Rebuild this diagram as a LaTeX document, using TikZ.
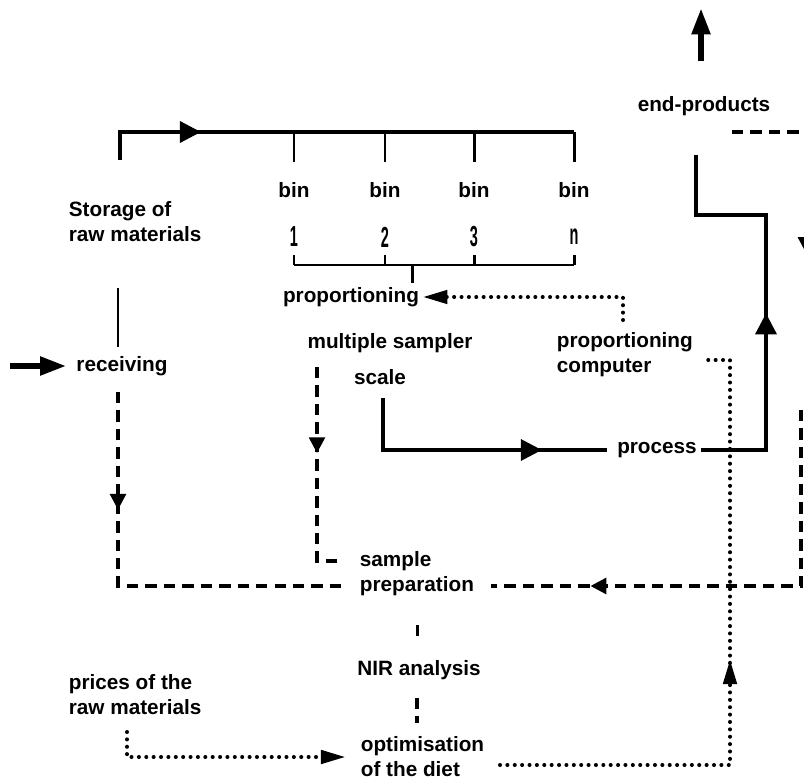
\documentclass[tikz,border=0pt]{standalone}
\usepackage{fontspec}
\setmainfont{Liberation Sans}
\usepackage{graphicx}
\usetikzlibrary{arrows.meta,decorations.markings}

\tikzset{
  lbl/.style={font=\fontsize{11.8}{14.2}\selectfont\bfseries, inner sep=2pt},
  lbll/.style={lbl, align=left, anchor=west},
  numlbl/.style={inner sep=1pt},
  flow/.style={line width=2pt},
  thinflow/.style={line width=1.7pt},
  bigflow/.style={line width=3.5pt},
  dashline/.style={line width=1.8pt, dash pattern=on 6.5pt off 4pt},
  dotline/.style={line width=2.3pt, dash pattern=on 0pt off 4.2pt, line cap=round},
  solidhead/.tip={Triangle[length=12pt,width=12pt]},
  dashhead/.tip={Triangle[length=9pt,width=9pt]},
  dothead/.tip={Triangle[length=14pt,width=7.5pt]},
  bighead/.tip={Triangle[length=15pt,width=10pt]},
  midtip/.style 2 args={postaction={decorate},
    decoration={markings, mark=at position #1 with {\arrow{#2}}}},
}
\newcommand{\binno}[1]{\scalebox{0.5}[1]{\fontsize{16.5}{16.5}\selectfont\bfseries #1}}

\begin{document}
\begin{tikzpicture}[x=0.02cm,y=-0.02cm]
  \clip (0,0) rectangle (804,780);

  % texts
  \node[lbl] (endp) at (704,106) {end-products};
  \node[lbll] (stor) at (65,222) {Storage of\\raw materials};
  \node[lbl] (prop) at (351,297) {proportioning};
  \node[lbl] (msamp) at (390,343) {multiple sampler};
  \node[lbll] (pcomp) at (553,355) {proportioning\\computer};
  \node[lbl] (recv) at (122,366) {receiving};
  \node[lbl] (scale) at (380,377) {scale};
  \node[lbl] (proc) at (657,450) {process};
  \node[lbll] (samp) at (356,561) {sample};
  \node[lbll] (prep) at (356,586) {preparation};
  \node[lbl] (nir) at (419,670) {NIR analysis};
  \node[lbll] (price) at (65,695) {prices of the\\raw materials};
  \node[lbll] (opt) at (357,757) {optimisation\\of the diet};

  % bins
  \foreach \x/\n [count=\i] in {294/1,385/2,474/3,574/n}{
    \node[lbl] (bin\i) at (\x,190) {bin};
    \node[numlbl] (num\i) at (\x,237) {\binno{\n}};
    \coordinate (br\i) at (\x,265);
  }

  % storage to the bins
  \coordinate (st0) at (120,160);
  \coordinate (top) at (574,132);
  \draw[flow, midtip={62pt}{solidhead}] (st0) |- (top);
  \foreach \i in {1,...,4}
    \draw[thinflow] (bin\i.north |- top) -- ++(0,30);
  \draw[thinflow] (br1) -- (br4);
  \foreach \i in {1,...,4}
    \draw[thinflow] (br\i) -- ++(0,-10);
  \coordinate (brm) at (412,265);
  \draw[thinflow] (brm) -- ++(0,18);

  % receiving
  \coordinate (feed) at (10,366);
  \draw[bigflow, -{bighead}, shorten >=3.5pt] (feed) -- (recv.west);
  \coordinate (st1) at (118,288);
  \draw[thinflow] (st1) -- ++(0,59);

  % scale to process to end-products
  \coordinate (sc0) at (383,398);
  \draw[flow, midtip={120pt}{solidhead}, shorten >=3.5pt] (sc0) |- (proc.west);
  \coordinate (pr1) at (766,215);
  \coordinate (pr2) at (696,155);
  \draw[flow, midtip={115pt}{solidhead}] (proc.east) -| (pr1) -| (pr2);
  \coordinate (out) at (701,8);
  \draw[bigflow, -{bighead}] (endp.north) ++(-3,-31) -- (out);

  % sampling (dashed)
  \coordinate (d1) at (118,392);
  \draw[dashline, midtip={67pt}{dashhead}, shorten >=6.5pt] (d1) |- (prep.west);
  \coordinate (d2) at (317,367);
  \draw[dashline, midtip={49pt}{dashhead}, shorten >=7.5pt] (d2) |- (samp.west);
  \coordinate (d3) at (801,410);
  \draw[dashline, midtip={220pt}{dashhead}, shorten >=7.5pt] (d3) |- (prep.east);
  \coordinate (d4) at (732,132);
  \coordinate (d5) at (806,253);
  \draw[dashline, -{dashhead}] (d4) -| (d5);
  \coordinate (n1) at (417,625);
  \draw[thinflow] (n1) -- ++(0,11);
  \coordinate (n2) at (417,698);
  \draw[dashline] (n2) -- ++(0,25);

  % control (dotted)
  \coordinate (pc0) at (623,320);
  \draw[dotline, -{dothead}] (pc0) |- (prop.east);
  \coordinate (o0) at (500,765);
  \coordinate (pc1) at (730,360);
  \draw[dotline, midtip={191pt}{dothead}, shorten >=3.7pt]
    (o0) -| (pc1) -- (pcomp.east |- pc1);
  \coordinate (pr0) at (127,732);
  \draw[dotline, -{dothead}, shorten >=6.5pt] (pr0) |- (opt.west);
\end{tikzpicture}
\end{document}
